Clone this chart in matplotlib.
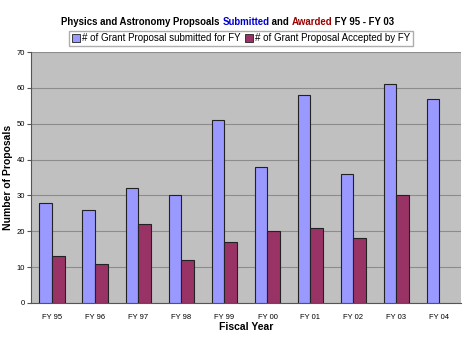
import numpy as np
import matplotlib
matplotlib.use("Agg")
import matplotlib.pyplot as plt
from matplotlib.patches import Patch

plt.rcParams['font.family'] = ['Liberation Sans', 'DejaVu Sans']

years = ["FY 95", "FY 96", "FY 97", "FY 98", "FY 99", "FY 00", "FY 01", "FY 02", "FY 03", "FY 04"]
submitted = [28, 26, 32, 30, 51, 38, 58, 36, 61, 57]
accepted = [13, 11, 22, 12, 17, 20, 21, 18, 30, np.nan]

fig = plt.figure(figsize=(4.68, 3.4), dpi=100)
ax = fig.add_axes([0.066, 0.109, 0.919, 0.738])
ax.set_facecolor("#C0C0C0")

x = np.arange(len(years))
w = 0.3
ax.bar(x - w / 2, submitted, w, color="#9999FF", edgecolor="#222222", linewidth=0.8, zorder=3)
ax.bar(x + w / 2, accepted, w, color="#993366", edgecolor="#222222", linewidth=0.8, zorder=3)

ax.set_xlim(-0.5, len(years) - 0.5)
ax.set_ylim(0, 70)
ax.set_yticks(range(0, 71, 10))
ax.yaxis.grid(True, color="#8C8C8C", linewidth=0.8, zorder=0)
ax.set_xticks(x)
ax.set_xticklabels(years)
ax.tick_params(axis="both", labelsize=5.5, length=3, color="#555555")
ax.tick_params(axis="y", pad=1)
ax.tick_params(axis="x", length=0, pad=8)
for s in ["top", "right"]:
    ax.spines[s].set_visible(False)
for s in ["left", "bottom"]:
    ax.spines[s].set_color("#555555")
    ax.spines[s].set_linewidth(0.8)

ax.set_xlabel("Fiscal Year", fontsize=7.5, fontweight="bold", labelpad=1)
ax.set_ylabel("Number of Proposals", fontsize=7.5, fontweight="bold")
ax.yaxis.set_label_coords(-0.041, 0.5)

# multi-coloured title
parts = [("Physics and Astronomy Propsoals ", "black"),
         ("Submitted", "#0000CC"),
         (" and ", "black"),
         ("Awarded", "#990000"),
         (" FY 95 - FY 03", "black")]
fig.canvas.draw()
renderer = fig.canvas.get_renderer()
texts = []
total = 0
for s, c in parts:
    t = fig.text(0, 0.935, s, color=c, fontsize=6.9, fontweight="bold", va="center", ha="left")
    bb = t.get_window_extent(renderer)
    texts.append((t, bb.width))
    total += bb.width
xpos = (fig.bbox.width * 0.487 - total / 2)
for t, wd in texts:
    t.set_x(xpos / fig.bbox.width)
    xpos += wd

handles = [Patch(facecolor="#9999FF", edgecolor="#222222", linewidth=0.6),
           Patch(facecolor="#993366", edgecolor="#222222", linewidth=0.6)]
fig.legend(handles, ["# of Grant Proposal submitted for FY", "# of Grant Proposal Accepted by FY"],
           loc="center", bbox_to_anchor=(0.515, 0.887), ncol=2, fontsize=7,
           frameon=True, fancybox=False, edgecolor="#999999", handlelength=0.8,
           handleheight=0.8, handletextpad=0.2, columnspacing=0.5, borderpad=0.3)

fig.savefig("out.png", dpi=100)
